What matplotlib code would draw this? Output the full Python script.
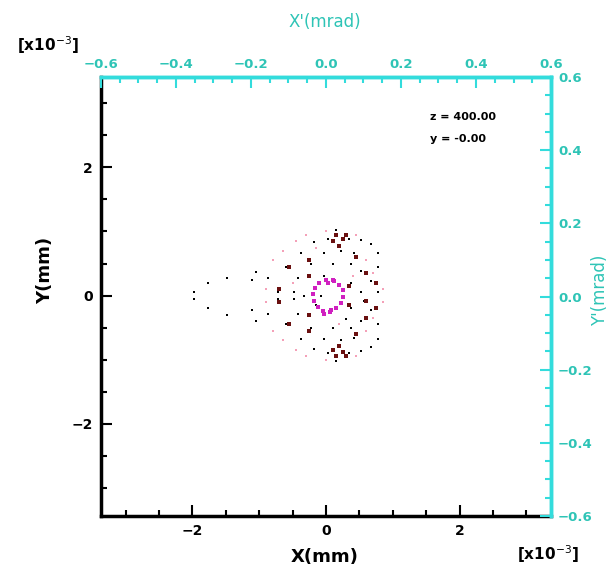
import matplotlib
matplotlib.use("Agg")
import matplotlib.pyplot as plt
from matplotlib.ticker import MultipleLocator

# ---- data (x and y in mm x10^-3) ----
black_x = [-1.98, -1.98, -1.77, -1.77, -1.48, -1.48, -1.11, -1.11, -1.05, -1.05, -0.57, -0.57,
           0.15, 0.03, 0.34, 0.52, 0.67, -0.18, -0.37, -0.03, 0.22, 0.42, 0.78,
           -0.60, -0.22, 0.10, 0.37, 0.52, 0.78, -0.87, -0.42, -0.03, 0.37, 0.67,
           -0.72, -0.48, -0.33, -0.07, 0.27, 0.52, 0.78,
           0.15, 0.03, 0.34, 0.52, 0.67, -0.18, -0.37, -0.03, 0.22, 0.42, 0.78,
           -0.60, -0.22, 0.10, 0.37, 0.52, 0.78, -0.87, -0.42, -0.03, 0.37, 0.67,
           -0.72, -0.48, 0.57, 0.30, -0.15]
black_y = [0.05, -0.05, 0.19, -0.20, 0.28, -0.30, 0.25, -0.23, 0.37, -0.39, 0.44, -0.45,
           1.02, 0.89, 0.89, 0.86, 0.81, 0.83, 0.67, 0.67, 0.70, 0.66, 0.67,
           0.44, 0.50, 0.50, 0.50, 0.39, 0.44, 0.28, 0.28, 0.31, 0.20, 0.23,
           0.05, 0.05, 0.00, 0.00, 0.00, 0.05, 0.05,
           -1.02, -0.89, -0.89, -0.86, -0.81, -0.83, -0.67, -0.67, -0.70, -0.66, -0.67,
           -0.44, -0.50, -0.50, -0.50, -0.39, -0.44, -0.28, -0.28, -0.31, -0.20, -0.23,
           -0.05, -0.05, -0.08, -0.36, -0.15]

maroon_x = [0.15, 0.10, 0.25, 0.20, 0.30, 0.15, 0.10, 0.25, 0.20, 0.30,
            -0.55, -0.25, -0.25, 0.45, 0.60, 0.60, -0.55, -0.25, -0.25, 0.45,
            0.60, 0.35, -0.70, 0.35, -0.70, 0.75, 0.75]
maroon_y = [0.94, 0.85, 0.88, 0.78, 0.95, -0.94, -0.85, -0.88, -0.78, -0.95,
            0.45, 0.55, 0.30, 0.60, 0.35, -0.08, -0.45, -0.55, -0.30, -0.60,
            -0.35, 0.15, 0.10, -0.15, -0.10, 0.20, -0.20]

pink_x = [-0.90, -0.80, -0.65, -0.45, -0.30, 0.00, 0.45, 0.60, 0.70, 0.85,
          -0.90, -0.80, -0.65, -0.45, -0.30, 0.00, 0.45, 0.60, 0.70, 0.85,
          -0.15, 0.40, -0.50, 0.20]
pink_y = [0.10, 0.55, 0.70, 0.85, 0.95, 1.00, 0.95, 0.55, 0.35, 0.10,
          -0.10, -0.55, -0.70, -0.85, -0.95, -1.00, -0.95, -0.55, -0.35, -0.10,
          0.75, 0.30, 0.20, -0.45]

ring_x = [0.03, 0.12, 0.20, 0.25, 0.26, 0.22, 0.15, 0.06, -0.04, -0.12, -0.18, -0.20, -0.17, -0.10, 0.00, 0.08, -0.03, 0.10]
ring_y = [0.20, 0.22, 0.17, 0.08, -0.02, -0.12, -0.20, -0.26, -0.24, -0.18, -0.09, 0.02, 0.12, 0.19, 0.24, -0.23, -0.28, 0.25]

label_lines = ["z = 400.00", "y = -0.00"]
x_ticks = [-2, 0, 2]
y_ticks = [-2, 0, 2]
xp_ticks = [-0.6, -0.4, -0.2, 0.0, 0.2, 0.4, 0.6]
yp_ticks = [-0.6, -0.4, -0.2, 0.0, 0.2, 0.4, 0.6]

CYAN = "#33dcdc"
CYAN_TXT = "#2ec4b6"

fig = plt.figure(figsize=(6.15, 5.75), dpi=100)
ax = fig.add_axes([0.164, 0.1026, 0.732, 0.7634])

ax.scatter(pink_x, pink_y, s=3, marker="s", color="#f4a0b8", linewidths=0, zorder=1)
ax.scatter(black_x, black_y, s=3.5, marker="s", color="black", linewidths=0, zorder=2)
ax.scatter(maroon_x, maroon_y, s=5, marker="s", color="#6a1010", linewidths=0, zorder=3)
ax.scatter(ring_x, ring_y, s=9, marker="s", color="#d020c0", linewidths=0, zorder=4)

ax.set_xlim(-3.37, 3.37)
ax.set_ylim(-3.44, 3.41)
ax.set_xticks(x_ticks)
ax.set_yticks(y_ticks)
ax.xaxis.set_minor_locator(MultipleLocator(0.5))
ax.yaxis.set_minor_locator(MultipleLocator(0.5))
ax.set_xticklabels([str(t).replace("-", "\u2212") for t in x_ticks], fontsize=10, fontweight="bold")
ax.set_yticklabels([str(t).replace("-", "\u2212") for t in y_ticks], fontsize=10, fontweight="bold")
ax.tick_params(which="both", direction="in", width=1.5)
ax.tick_params(which="major", length=8, pad=6)
ax.tick_params(which="minor", length=4)
for s in ["left", "bottom"]:
    ax.spines[s].set_linewidth(2.5)
for s in ["top", "right"]:
    ax.spines[s].set_visible(False)

# top axis: X' (mrad)
axt = ax.twiny()
axt.set_xlim(-0.6, 0.6)
axt.set_xticks(xp_ticks)
axt.set_xticklabels([f"{t:.1f}".replace("-", "\u2212") for t in xp_ticks],
                    fontsize=9.5, fontweight="bold", color=CYAN_TXT)
axt.xaxis.set_minor_locator(MultipleLocator(0.05))
axt.tick_params(which="both", direction="in", color=CYAN, width=1.5)
axt.tick_params(which="major", length=8, pad=4)
axt.tick_params(which="minor", length=4)

# right axis: Y' (mrad)
axr = ax.twinx()
axr.set_ylim(-0.6, 0.6)
axr.set_yticks(yp_ticks)
axr.set_yticklabels([f"{t:.1f}".replace("-", "\u2212") for t in yp_ticks],
                    fontsize=9.5, fontweight="bold", color=CYAN_TXT)
axr.yaxis.set_minor_locator(MultipleLocator(0.05))
axr.tick_params(which="both", direction="in", color=CYAN, width=1.5)
axr.tick_params(which="major", length=8, pad=5)
axr.tick_params(which="minor", length=4)

for a in (axt, axr):
    for s in ["left", "bottom"]:
        a.spines[s].set_visible(False)
    for s in ["top", "right"]:
        a.spines[s].set_color(CYAN)
        a.spines[s].set_linewidth(2.5)

# axis titles
fig.text(325 / 615, 1 - 557 / 575, "X(mm)", ha="center", va="center", fontsize=13, fontweight="bold")
fig.text(45 / 615, 1 - 270 / 575, "Y(mm)", ha="center", va="center", fontsize=13, fontweight="bold", rotation=90)
fig.text(325 / 615, 1 - 22 / 575, "X'(mrad)", ha="center", va="center", fontsize=12, color=CYAN_TXT)
fig.text(600 / 615, 1 - 290 / 575, "Y'(mrad)", ha="center", va="center", fontsize=12, color=CYAN_TXT, rotation=90)
fig.text(48 / 615, 1 - 45 / 575, r"[x10$^{-3}$]", ha="center", va="center", fontsize=11, fontweight="bold")
fig.text(548 / 615, 1 - 554 / 575, r"[x10$^{-3}$]", ha="center", va="center", fontsize=11, fontweight="bold")

for i, line in enumerate(label_lines):
    fig.text(430 / 615, 1 - (117 + 22 * i) / 575, line, ha="left", va="center", fontsize=8, fontweight="bold")

fig.savefig("out.png", dpi=100, facecolor="white")
